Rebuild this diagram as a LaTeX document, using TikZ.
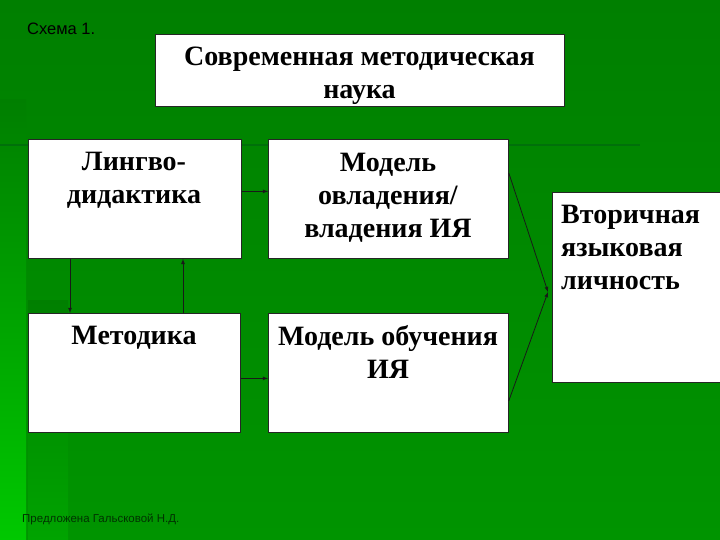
\documentclass[tikz,border=0pt]{standalone}
\usepackage{fontspec}
\setmainfont{Liberation Serif}
\setsansfont{Liberation Sans}
\definecolor{bgtop}{HTML}{007F00}
\definecolor{bgbot}{HTML}{009400}
\definecolor{stripbot}{HTML}{00C800}
\definecolor{bandbot}{HTML}{00A400}
\definecolor{rule}{HTML}{00700A}
\tikzset{
  box/.style={draw=black!85,fill=white,line width=0.8pt,anchor=north west,inner sep=0pt},
  boxtext/.style={font=\bfseries\fontsize{28}{33}\selectfont,align=center,anchor=base,inner sep=0pt},
  arr/.style={->,line width=0.8pt,black!90}
}
\begin{document}
\begin{tikzpicture}[>=latex,x=1pt,y=-1pt]
\useasboundingbox (0,0) rectangle (720,540);
% background
\shade[top color=bgtop,bottom color=bgbot] (0,0) rectangle (720,540);
\shade[top color=bgtop,bottom color=stripbot] (0,100) rectangle (26,540);
\shade[top color=bgtop,bottom color=bandbot] (28,300) rectangle (68,540);
\fill[rule] (0,144) rectangle (640,146);
\coordinate (T) at (155,34);
\coordinate (L) at (28,139);
\coordinate (M1) at (268,139);
\coordinate (Me) at (28,313);
\coordinate (M2) at (268,313);
\coordinate (V) at (552,192);
\coordinate (meet) at (548,292);
\node[font=\sffamily\fontsize{16.5}{19}\selectfont,anchor=base west,inner sep=0pt] (schema) at (27,35) {Схема 1.};
\node[box,minimum width=409,minimum height=72] (title) at (T) {};
\node[box,minimum width=213,minimum height=119] (lingvo) at (L) {};
\node[box,minimum width=240,minimum height=119] (model1) at (M1) {};
\node[box,minimum width=212,minimum height=119] (metod) at (Me) {};
\node[box,minimum width=240,minimum height=119] (model2) at (M2) {};
\node[box,minimum width=172,minimum height=190] (vtor) at (V) {};
% anchor=base is the last line
\node[boxtext] (titletext) at (359.5,99) {Современная методическая\\наука};
\node[boxtext] (lingvotext) at (134,204) {Лингво-\\дидактика};
\node[boxtext] (model1text) at (388,237) {Модель\\овладения/\\владения ИЯ};
\node[boxtext] (metodtext) at (134,344) {Методика};
\node[boxtext] (model2text) at (388,378) {Модель обучения\\ИЯ};
\node[boxtext,align=left,anchor=base west] (vtortext) at (561,289) {Вторичная\\языковая\\личность};
\node[font=\sffamily\fontsize{11.5}{13}\selectfont,anchor=base west,inner sep=0pt,black!80!green] (author) at (22,522) {Предложена Гальсковой Н.Д.};
\draw[arr] ([yshift=7.5pt]lingvo.east) -- ([yshift=7.5pt]model1.west);
\draw[arr] ([yshift=-5.5pt]metod.east) -- ([yshift=-5.5pt]model2.west);
\draw[arr] ([xshift=42pt]lingvo.south west) -- ([xshift=42pt]metod.north west);
\draw[arr] ([xshift=155pt]metod.north west) -- ([xshift=155pt]lingvo.south west);
\draw[arr] ([yshift=-34pt]model1.north east) -- (meet);
\draw[arr] ([yshift=32pt]model2.south east) -- (meet);
\end{tikzpicture}
\end{document}
